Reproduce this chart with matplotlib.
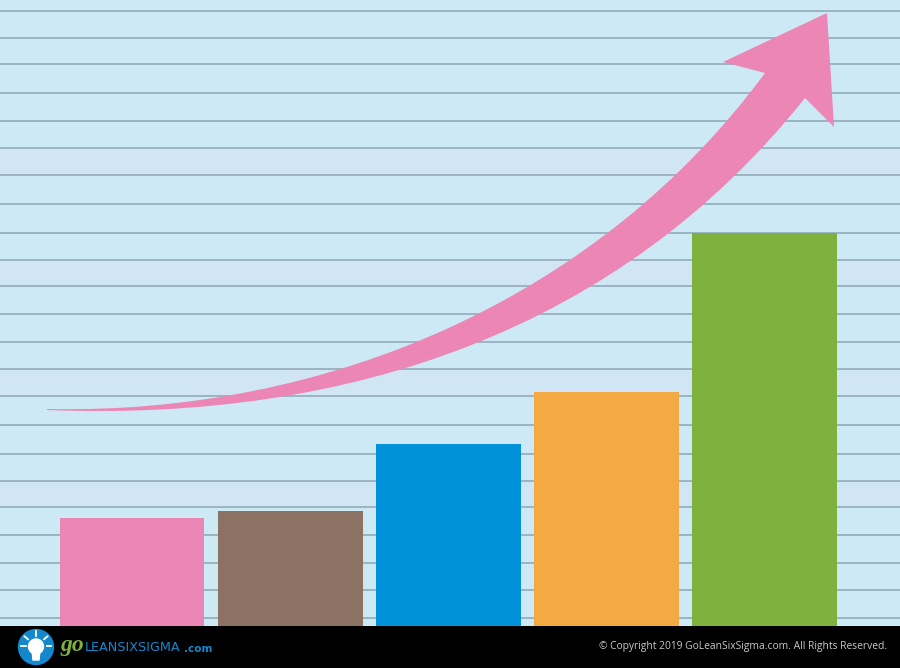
import numpy as np
import matplotlib
matplotlib.use("Agg")
import matplotlib.pyplot as plt
from matplotlib.patches import Circle, PathPatch, Polygon
from matplotlib.path import Path

# bars (heights, in px above the footer)
categorias = [0, 1, 2, 3, 4]
alturas = [108, 115, 182, 234, 393]
colores = ["#EC86B5", "#8B7263", "#0092D8", "#F3AA43", "#7FB13F"]

# ruled lines behind the bars, image rows
renglones = [10.5, 37.5, 64, 93, 121, 148, 175, 204, 233, 260, 286, 314,
             342, 369, 396, 425, 453.5, 481, 507, 535, 563, 590, 618]
bandas = [(148, 175), (260, 286), (369, 396), (481, 507)]

# arrow outline, image px: two bezier edges plus the head
borde_arriba = [(47, 409), (330, 415), (600, 297), (765, 73)]
borde_abajo = [(805, 98), (620, 330), (350, 422), (47, 410)]
punta = [(723, 62), (827, 13), (834, 127)]

ANCHO, ALTO = 900, 668
PIE = 626
FONDO = "#CDE9F5"

fig = plt.figure(figsize=(9, 6.68), dpi=100, facecolor=FONDO)

# bar chart area
ax = fig.add_axes([0, (ALTO - PIE) / ALTO, 1, PIE / ALTO])
ax.set_facecolor(FONDO)
for b in bandas:
    ax.axhspan(PIE - b[1], PIE - b[0], color="#D1E6F5", linewidth=0, zorder=0)
ax.hlines([PIE - r for r in renglones], -1, 6, color="#8CA6B6", linewidth=1.1, zorder=1)
ax.bar(categorias, alturas, width=0.915, color=colores, zorder=2)
ax.set_xlim(-0.834, 4.855)
ax.set_ylim(0, PIE)
ax.axis("off")

# overlay in image px: arrow and footer
capa = fig.add_axes([0, 0, 1, 1], zorder=3)
capa.set_xlim(0, ANCHO)
capa.set_ylim(ALTO, 0)
capa.axis("off")

verts = borde_arriba + punta + borde_abajo + [borde_arriba[0]]
codes = [Path.MOVETO] + [Path.CURVE4] * 3 + [Path.LINETO] * 3
codes += [Path.LINETO] + [Path.CURVE4] * 3 + [Path.CLOSEPOLY]
capa.add_patch(PathPatch(Path(verts, codes), facecolor="#EC86B5", edgecolor="none"))

# footer
capa.fill_between([0, ANCHO], PIE, ALTO, color="black", linewidth=0)

# logo: bulb on a blue disc
capa.add_patch(Circle((36, 647), 17.5, color="#1488CC"))
capa.add_patch(Circle((36, 646.5), 7.5, color="white"))
capa.add_patch(Polygon([(32, 650), (40, 650), (39, 660), (33, 660)], color="white"))
for ang in [-90, -40, -140, 0, 180]:
    a = np.deg2rad(ang)
    capa.plot([36 + 10.5 * np.cos(a), 36 + 15 * np.cos(a)],
              [646 + 10.5 * np.sin(a), 646 + 15 * np.sin(a)], color="white", linewidth=1.3)
capa.text(60.5, 646, "go", color="#7FB13F", fontsize=17, fontstyle="italic",
          family="Liberation Serif", fontweight="bold", va="center", ha="left")
capa.text(85, 647.5, "LEANSIXSIGMA", color="#1488CC", fontsize=9.2, family="DejaVu Sans",
          va="center", ha="left")
capa.text(184, 648.5, ".com", color="#1488CC", fontsize=7.5, family="DejaVu Sans",
          fontweight="bold", va="center", ha="left")
capa.text(887, 647, "© Copyright 2019 GoLeanSixSigma.com. All Rights Reserved.", color="#C9C9C9",
          fontsize=7.38, family="Open Sans", va="center", ha="right")

fig.savefig("out.png", dpi=100, facecolor=FONDO)
